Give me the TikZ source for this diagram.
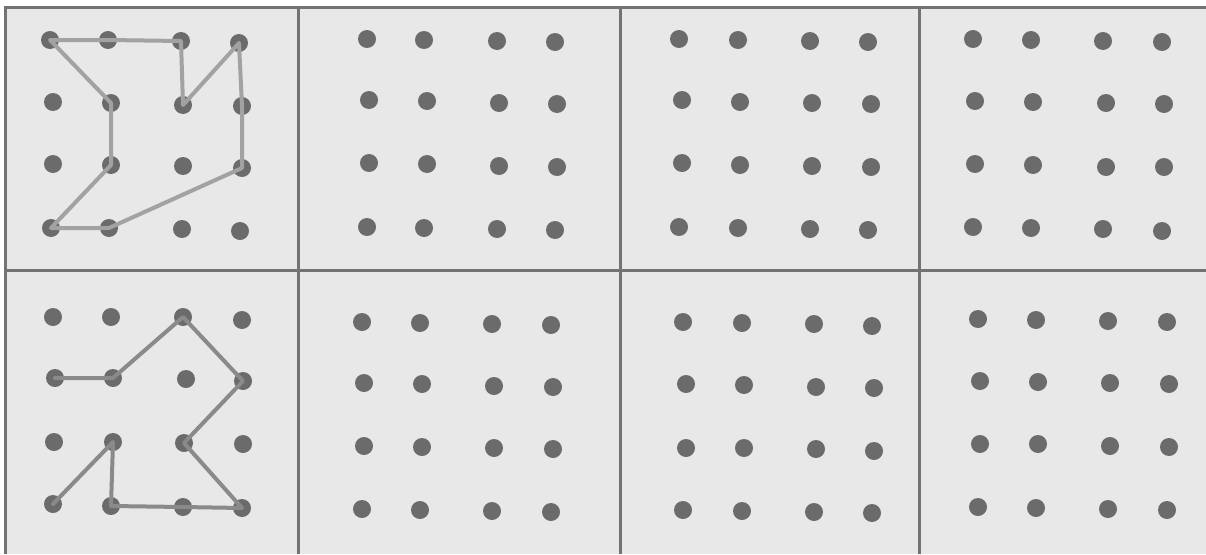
\documentclass[tikz,border=0pt]{standalone}
\definecolor{bgfill}{HTML}{E8E8E8}
\definecolor{framecol}{HTML}{737373}
\definecolor{dotcol}{HTML}{6B6B6B}
\definecolor{lineA}{HTML}{A2A2A2}
\definecolor{lineB}{HTML}{8A8A8A}
\tikzset{
  pin/.style={circle, fill=dotcol, draw=none, minimum size=18pt, inner sep=0pt},
  frameline/.style={draw=framecol, line width=3pt},
  pathA/.style={draw=lineA, line width=4pt, line join=round, line cap=round},
  pathB/.style={draw=lineB, line width=4pt, line join=round, line cap=round}
}
\begin{document}
\begin{tikzpicture}[x=1pt,y=-1pt]
\useasboundingbox (0,0) rectangle (1206,554);
\fill[white] (0,0) rectangle (1206,554);
\fill[bgfill] (5,7) rectangle (1206,554);
% frame
\draw[frameline] (5,554) -- (5,7) -- (1206,7);
\draw[frameline] (5,270) -- (1206,270);
\draw[frameline] (298,7) -- (298,554);
\draw[frameline] (620,7) -- (620,554);
\draw[frameline] (919,7) -- (919,554);
% panel 1
\foreach \n/\x/\y in {a00/50/40, a01/108/40, a02/181/41, a03/239/43,
  a10/53/102, a11/111/103, a12/183/105, a13/242/106,
  a20/53/164, a21/111/165, a22/183/166, a23/242/168,
  a30/51/228, a31/109/228, a32/182/229, a33/240/231}
  \node[pin] (\n) at (\x,\y) {};
% panel 2
\foreach \n/\x/\y in {b00/367/39, b01/424/40, b02/497/41, b03/555/42,
  b10/369/100, b11/427/101, b12/499/103, b13/557/104,
  b20/369/163, b21/427/164, b22/499/166, b23/557/167,
  b30/367/227, b31/424/228, b32/497/229, b33/555/230}
  \node[pin] (\n) at (\x,\y) {};
% panel 3
\foreach \n/\x/\y in {c00/679/39, c01/738/40, c02/810/41, c03/868/42,
  c10/682/100, c11/740/102, c12/812/103, c13/871/104,
  c20/682/163, c21/740/165, c22/812/166, c23/871/167,
  c30/679/227, c31/738/228, c32/810/229, c33/868/230}
  \node[pin] (\n) at (\x,\y) {};
% panel 4
\foreach \n/\x/\y in {d00/973/39, d01/1031/40, d02/1103/41, d03/1162/42,
  d10/975/101, d11/1033/102, d12/1106/103, d13/1164/104,
  d20/975/164, d21/1033/165, d22/1106/167, d23/1164/167,
  d30/973/227, d31/1031/228, d32/1103/229, d33/1162/231}
  \node[pin] (\n) at (\x,\y) {};
% panel 5
\foreach \n/\x/\y in {e00/53/317, e01/111/317, e02/183/317, e03/242/320,
  e10/55/378, e11/113/378, e12/186/379, e13/243/381,
  e20/54/442, e21/113/442, e22/184/443, e23/243/444,
  e30/53/504, e31/111/506, e32/183/507, e33/242/508}
  \node[pin] (\n) at (\x,\y) {};
% panel 6
\foreach \n/\x/\y in {f00/362/322, f01/420/323, f02/492/324, f03/551/325,
  f10/364/383, f11/422/384, f12/494/386, f13/553/387,
  f20/364/446, f21/422/447, f22/494/448, f23/553/449,
  f30/362/509, f31/420/510, f32/492/511, f33/551/512}
  \node[pin] (\n) at (\x,\y) {};
% panel 7
\foreach \n/\x/\y in {g00/683/322, g01/742/323, g02/814/324, g03/872/326,
  g10/686/384, g11/744/385, g12/816/387, g13/874/388,
  g20/686/448, g21/744/448, g22/816/449, g23/874/451,
  g30/683/510, g31/742/511, g32/814/512, g33/872/513}
  \node[pin] (\n) at (\x,\y) {};
% panel 8
\foreach \n/\x/\y in {h00/978/319, h01/1036/320, h02/1108/321, h03/1167/322,
  h10/980/381, h11/1038/382, h12/1110/383, h13/1169/384,
  h20/980/444, h21/1038/444, h22/1110/446, h23/1169/447,
  h30/978/507, h31/1036/508, h32/1108/509, h33/1167/510}
  \node[pin] (\n) at (\x,\y) {};
% drawn paths
\draw[pathA] (a00.center) -- (a01.center) -- (a02.center) -- (a12.center) -- (a03.center)
  -- (a13.center) -- (a23.center) -- (a31.center) -- (a30.center) -- (a21.center)
  -- (a11.center) -- cycle;
\draw[pathB] (e10.center) -- (e11.center) -- (e02.center) -- (e13.center) -- (e22.center)
  -- (e33.center) -- (e32.center) -- (e31.center) -- (e21.center) -- (e30.center);
\end{tikzpicture}
\end{document}
